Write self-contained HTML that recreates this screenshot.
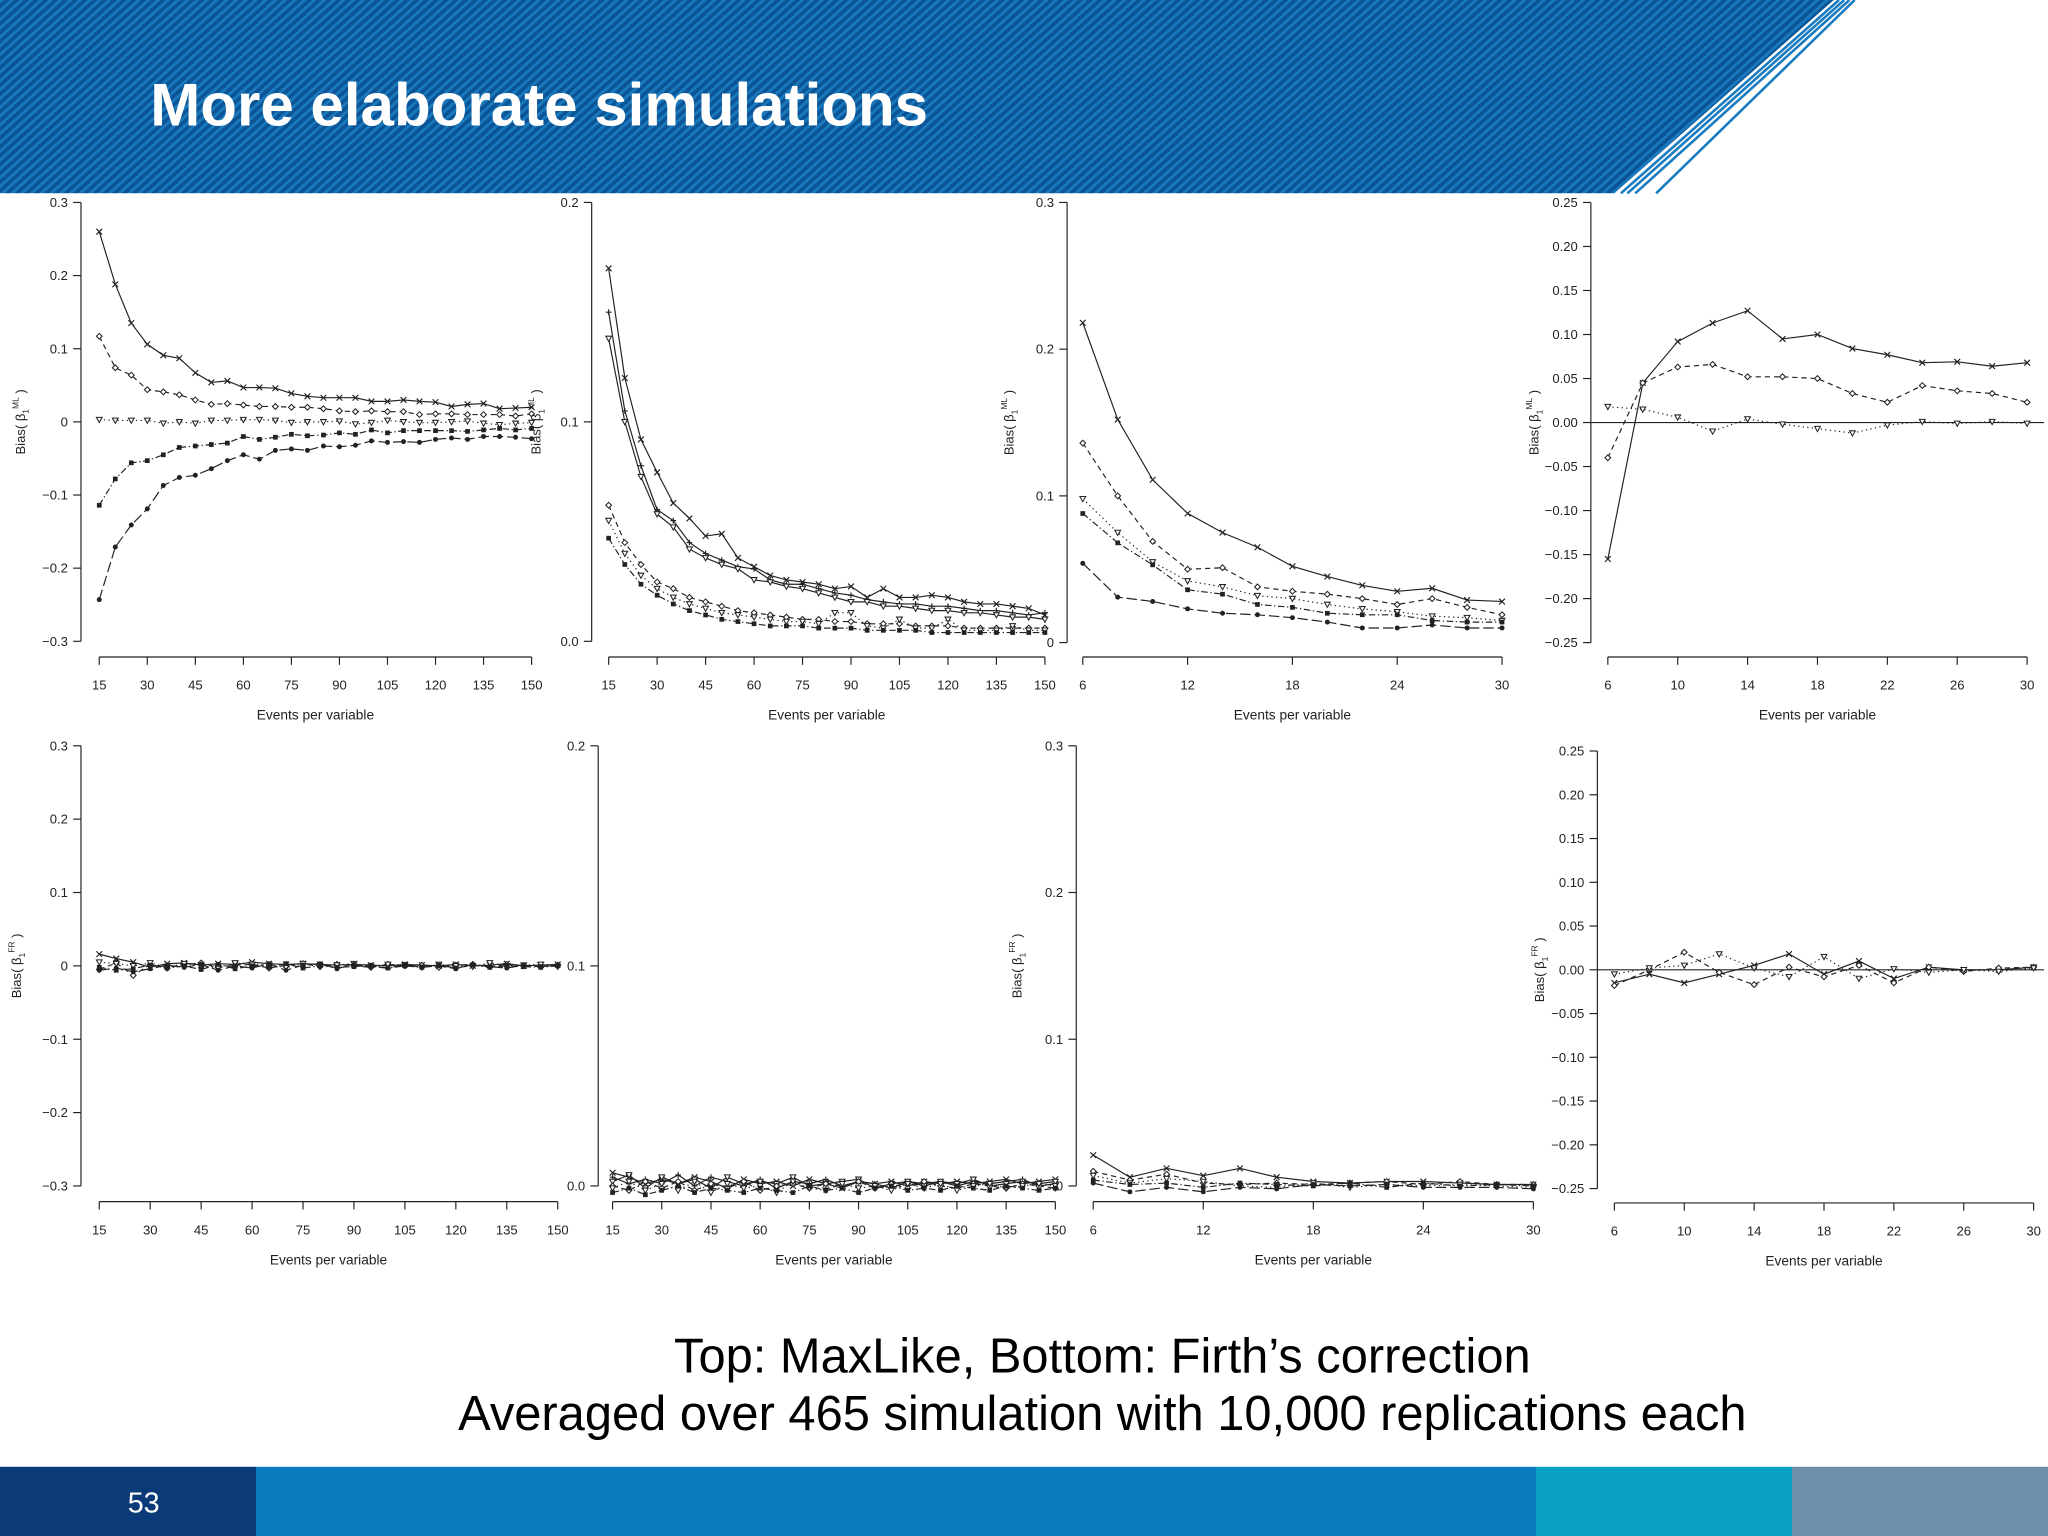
<!DOCTYPE html>
<html><head><meta charset="utf-8"><style>
html,body{margin:0;padding:0;background:#fff;}
svg{display:block;}
text{font-family:"Liberation Sans",Arial,sans-serif;}
</style></head><body>
<svg id="chart" width="2048" height="1536" viewBox="0 0 1568 1176" xmlns="http://www.w3.org/2000/svg">
<defs>
<pattern id="stripes" width="5" height="5" patternUnits="userSpaceOnUse" patternTransform="rotate(48)">
<rect width="5" height="5" fill="#0b5596"/><rect width="2.2" height="5" fill="#1a78bd"/>
</pattern>
</defs>
<g>
<polygon points="0,0 1404,0 1236,148 0,148" fill="url(#stripes)"/>
<g stroke="#1a7cc0" stroke-width="2">
<line x1="1408" y1="0" x2="1241" y2="148"/><line x1="1412" y1="0" x2="1246" y2="148"/>
<line x1="1416" y1="0" x2="1252" y2="148"/><line x1="1420" y1="0" x2="1268" y2="148"/>
</g>
<text x="115" y="96" font-size="46" font-weight="bold" fill="#fff">More elaborate simulations</text>
</g>
<g id="panels"></g>
<g font-size="37.4" fill="#000" text-anchor="middle">
<text x="844" y="1051">Top: MaxLike, Bottom: Firth’s correction</text>
<text x="844" y="1095">Averaged over 465 simulation with 10,000 replications each</text>
</g>
<g>
<rect x="0" y="1123" width="196" height="53" fill="#0a3a78"/>
<rect x="196" y="1123" width="980" height="53" fill="#0b7bc0"/>
<rect x="1176" y="1123" width="196" height="53" fill="#0aa2c2"/>
<rect x="1372" y="1123" width="196" height="53" fill="#6f8fa8"/>
<text x="110" y="1158" font-size="22" fill="#fff" text-anchor="middle">53</text>
</g>
</svg>
<script>
// ---- data ----
const epvLong = [15,20,25,30,35,40,45,50,55,60,65,70,75,80,85,90,95,100,105,110,115,120,125,130,135,140,145,150];
const epvShort = [6,8,10,12,14,16,18,20,22,24,26,28,30];
const xTicksLong = [15,30,45,60,75,90,105,120,135,150];
const xTicksShort = [6,12,18,24,30];
const xTicksShort4 = [6,10,14,18,22,26,30];
const yTicks3 = [-0.3,-0.2,-0.1,0,0.1,0.2,0.3];
const yLabels3 = ["−0.3","−0.2","−0.1","0","0.1","0.2","0.3"];
const yTicks2 = [0,0.1,0.2];
const yLabels2 = ["0.0","0.1","0.2"];
const yTicks03 = [0,0.1,0.2,0.3];
const yLabels03 = ["0","0.1","0.2","0.3"];
const yTicks25 = [-0.25,-0.2,-0.15,-0.1,-0.05,0,0.05,0.1,0.15,0.2,0.25];
const yLabels25 = ["−0.25","−0.20","−0.15","−0.10","−0.05","0.00","0.05","0.10","0.15","0.20","0.25"];

const p1A = [.26,.188,.135,.106,.091,.087,.067,.054,.056,.047,.047,.046,.039,.035,.033,.033,.033,.028,.028,.030,.028,.027,.021,.024,.025,.018,.019,.020];
const p1B = [.117,.074,.064,.044,.041,.037,.030,.024,.025,.023,.021,.021,.020,.020,.018,.015,.014,.015,.014,.014,.010,.011,.011,.010,.010,.010,.008,.011];
const p1C = [.003,.002,.002,.002,-.002,0,-.002,.002,.002,.003,.003,.002,-.001,0,0,.001,-.003,-.001,.002,0,-.001,-.001,0,.001,-.002,-.004,-.002,-.001];
const p1D = [-.114,-.078,-.056,-.053,-.045,-.035,-.033,-.031,-.029,-.020,-.024,-.021,-.017,-.019,-.018,-.015,-.017,-.011,-.015,-.012,-.012,-.012,-.012,-.013,-.011,-.009,-.011,-.009];
const p1E = [-.243,-.171,-.141,-.119,-.087,-.076,-.073,-.064,-.053,-.045,-.051,-.039,-.037,-.039,-.033,-.034,-.032,-.026,-.028,-.027,-.028,-.024,-.022,-.024,-.020,-.020,-.021,-.023];

const p2A = [.17,.12,.092,.077,.063,.056,.048,.049,.038,.034,.030,.028,.027,.026,.024,.025,.020,.024,.020,.020,.021,.020,.018,.017,.017,.016,.015,.012];
const p2B = [.15,.105,.08,.06,.055,.045,.040,.037,.034,.033,.028,.026,.026,.024,.022,.021,.019,.018,.017,.017,.016,.016,.015,.014,.014,.013,.012,.013];
const p2C = [.138,.10,.075,.058,.052,.042,.038,.035,.033,.028,.027,.025,.024,.022,.020,.018,.018,.016,.016,.015,.014,.014,.013,.013,.012,.011,.011,.010];
const p2D = [.062,.045,.035,.027,.024,.020,.018,.016,.014,.013,.012,.011,.010,.010,.009,.009,.008,.008,.008,.007,.007,.007,.006,.006,.006,.006,.006,.006];
const p2E = [.055,.040,.030,.024,.020,.017,.015,.013,.012,.011,.010,.009,.009,.008,.013,.013,.007,.006,.010,.006,.006,.010,.005,.005,.005,.007,.005,.005];
const p2F = [.047,.035,.026,.021,.017,.014,.012,.010,.009,.008,.007,.007,.007,.006,.006,.006,.005,.005,.005,.005,.004,.004,.004,.004,.004,.004,.004,.004];

const p3A = [.218,.152,.111,.088,.075,.065,.052,.045,.039,.035,.037,.029,.028];
const p3B = [.136,.100,.069,.050,.051,.038,.035,.033,.030,.026,.030,.024,.019];
const p3C = [.098,.075,.055,.042,.038,.032,.030,.026,.023,.021,.018,.017,.015];
const p3D = [.088,.068,.053,.036,.033,.026,.024,.020,.019,.019,.015,.014,.014];
const p3E = [.054,.031,.028,.023,.020,.019,.017,.014,.010,.010,.012,.010,.010];

const p4A = [-.155,.045,.092,.113,.127,.095,.100,.084,.077,.068,.069,.064,.068];
const p4B = [-.040,.045,.063,.066,.052,.052,.050,.033,.023,.042,.036,.033,.023];
const p4C = [.018,.015,.006,-.010,.004,-.002,-.007,-.012,-.003,.001,-.001,.001,-.001];

const p5A = [.016,.010,.005,-.002,.003,.004,.001,.003,.002,.005,.003,.002,.003,.002,.001,.002,.001,0,.002,.001,0,.002,0,.001,.003,0,.001,.002];
const p5B = [-.005,.004,-.013,.002,-.003,.002,.004,-.002,.001,.002,-.003,.001,.003,-.001,.002,0,-.002,.002,0,.001,-.002,.001,.002,-.001,.002,0,-.001,.001];
const p5C = [.005,.003,0,.004,-.002,.003,0,-.003,.004,.002,.001,-.002,.003,0,.001,.003,-.001,.002,.001,-.002,.002,0,-.001,.004,0,.001,.002,-.001];
const p5D = [-.002,-.006,-.004,.001,-.003,0,-.005,.002,-.004,0,-.002,.003,-.003,0,-.002,-.001,.001,-.003,0,-.002,.001,-.003,.001,-.002,0,-.001,-.002,0];
const p5E = [-.006,-.003,-.008,-.004,.001,-.002,.002,-.006,0,-.003,.003,-.006,.001,.003,-.004,.002,-.001,-.003,.002,-.002,0,-.004,.002,-.001,-.003,.001,-.001,.001];

const p6A = [.006,.004,.001,.003,.001,.004,.002,-.001,.003,.001,.002,0,.003,.001,-.001,.002,.001,.002,0,.002,.001,.002,.001,.002,.003,.001,.002,.003];
const p6B = [.004,.001,.003,.001,.005,0,.004,.002,0,.003,-.001,.002,.001,.003,0,.002,.001,-.001,.002,.001,.002,0,.002,.001,.002,.003,0,.001];
const p6C = [.002,.005,-.001,.004,.001,.003,-.001,.004,.001,.002,.001,.004,0,.001,.002,.003,-.001,.001,.002,0,.002,.001,.003,0,.001,.002,.001,.002];
const p6D = [0,-.002,.002,-.001,.002,-.002,.001,-.001,.002,-.002,0,.001,-.001,.001,0,.002,-.001,.001,-.001,.002,0,-.001,.001,0,-.001,.001,0,-.001];
const p6E = [-.001,.002,-.002,.001,-.002,.002,-.003,.001,-.001,0,-.003,.002,-.001,-.002,.001,-.001,0,-.002,.001,-.001,.001,-.002,0,.001,-.001,0,.001,0];
const p6F = [-.003,-.001,-.004,-.002,0,-.003,-.001,-.002,-.003,-.001,-.002,-.003,0,-.002,-.001,-.003,-.001,0,-.002,-.001,-.002,0,-.001,-.002,0,-.001,-.002,-.001];

const p7A = [.021,.006,.012,.007,.012,.006,.003,.002,.003,.003,.002,.001,.001];
const p7B = [.010,.004,.008,.002,.001,.002,.001,.002,.003,.001,.003,.001,.001];
const p7C = [.007,.002,.005,.003,0,-.001,.002,-.001,.001,0,.001,0,-.001];
const p7D = [.004,.001,.002,-.001,.002,.001,0,.002,-.001,.002,0,.001,0];
const p7E = [.002,-.004,-.001,-.004,-.001,-.002,.001,0,.001,-.001,-.001,-.001,-.002];

const p8A = [-.015,-.005,-.015,-.005,.005,.018,-.005,.010,-.010,.003,0,0,.003];
const p8B = [-.018,0,.020,-.003,-.017,.003,-.008,.005,-.015,.003,-.002,.002,.003];
const p8C = [-.005,.002,.005,.018,.002,-.008,.015,-.010,.001,-.003,0,-.002,.002];

// ---- styles & layout ----
const styles = {
  solid:{dash:"", marker:"x"}, dashed:{dash:"4,3", marker:"diamond"}, dotted:{dash:"1,2.5", marker:"tri"},
  dashdot:{dash:"5,2,1,2", marker:"square"}, longdash:{dash:"8,3", marker:"circle"}, solid2:{dash:"", marker:"plus"}, solid3:{dash:"", marker:"tri"}
};
const panels = [
 {name:"ml-panel-1", ax:62, top:155, bot:491, xAxisY:503, x0:76, x1:407, xs:epvLong, xt:xTicksLong, yt:yTicks3, yl:yLabels3, ymin:-0.3, ymax:0.3, sup:"ML", ylx:15, zero:false,
  series:[[p1A,"solid"],[p1B,"dashed"],[p1C,"dotted"],[p1D,"dashdot"],[p1E,"longdash"]]},
 {name:"ml-panel-2", ax:453, top:155, bot:491, xAxisY:503, x0:466, x1:800, xs:epvLong, xt:xTicksLong, yt:yTicks2, yl:yLabels2, ymin:0, ymax:0.2, sup:"ML", ylx:410, zero:false,
  series:[[p2A,"solid"],[p2B,"solid2"],[p2C,"solid3"],[p2D,"dashed"],[p2E,"dotted"],[p2F,"dashdot"]]},
 {name:"ml-panel-3", ax:817, top:155, bot:492, xAxisY:503, x0:829, x1:1150, xs:epvShort, xt:xTicksShort, yt:yTicks03, yl:yLabels03, ymin:0, ymax:0.3, sup:"ML", ylx:772, zero:false,
  series:[[p3A,"solid"],[p3B,"dashed"],[p3C,"dotted"],[p3D,"dashdot"],[p3E,"longdash"]]},
 {name:"ml-panel-4", ax:1218, top:155, bot:492, xAxisY:503, x0:1231, x1:1552, xs:epvShort, xt:xTicksShort4, yt:yTicks25, yl:yLabels25, ymin:-0.25, ymax:0.25, sup:"ML", ylx:1174, zero:true, zx:1565,
  series:[[p4A,"solid"],[p4B,"dashed"],[p4C,"dotted"]]},
 {name:"firth-panel-1", ax:62, top:571, bot:908, xAxisY:920, x0:76, x1:427, xs:epvLong, xt:xTicksLong, yt:yTicks3, yl:yLabels3, ymin:-0.3, ymax:0.3, sup:"FR", ylx:12, zero:false,
  series:[[p5A,"solid"],[p5B,"dashed"],[p5C,"dotted"],[p5D,"dashdot"],[p5E,"longdash"]]},
 {name:"firth-panel-2", ax:458, top:571, bot:908, xAxisY:920, x0:469, x1:808, xs:epvLong, xt:xTicksLong, yt:yTicks2, yl:yLabels2, ymin:0, ymax:0.2, sup:"FR", ylx:null, zero:false,
  series:[[p6A,"solid"],[p6B,"solid2"],[p6C,"solid3"],[p6D,"dashed"],[p6E,"dotted"],[p6F,"dashdot"]]},
 {name:"firth-panel-3", ax:824, top:571, bot:908, xAxisY:920, x0:837, x1:1174, xs:epvShort, xt:xTicksShort, yt:yTicks03, yl:yLabels03, ymin:0, ymax:0.3, sup:"FR", ylx:778, zero:false,
  series:[[p7A,"solid"],[p7B,"dashed"],[p7C,"dotted"],[p7D,"dashdot"],[p7E,"longdash"]]},
 {name:"firth-panel-4", ax:1223, top:575, bot:910, xAxisY:921, x0:1236, x1:1557, xs:epvShort, xt:xTicksShort4, yt:yTicks25, yl:yLabels25, ymin:-0.25, ymax:0.25, sup:"FR", ylx:1178, zero:true, zx:1565,
  series:[[p8A,"solid"],[p8B,"dashed"],[p8C,"dotted"]]}
];

const NS="http://www.w3.org/2000/svg";
function mk(tag, attrs, parent){const e=document.createElementNS(NS,tag);for(const k in attrs)e.setAttribute(k,attrs[k]);parent.appendChild(e);return e;}
const root=document.getElementById("panels");

function marker(g, type, x, y){
  const s=2.2; let e;
  if(type==="x"||type==="plus"){
    const d = type==="x" ? `M${x-s},${y-s}L${x+s},${y+s}M${x-s},${y+s}L${x+s},${y-s}` : `M${x-s},${y}L${x+s},${y}M${x},${y-s}L${x},${y+s}`;
    e=mk("path",{d:d,stroke:"#222","stroke-width":0.9,fill:"none"},g);
  } else if(type==="diamond"){
    e=mk("polygon",{points:`${x},${y-s} ${x+s},${y} ${x},${y+s} ${x-s},${y}`,fill:"#fff",stroke:"#222","stroke-width":0.8},g);
  } else if(type==="tri"){
    e=mk("polygon",{points:`${x-s},${y-s*0.8} ${x+s},${y-s*0.8} ${x},${y+s}`,fill:"#fff",stroke:"#222","stroke-width":0.8},g);
  } else if(type==="square"){
    e=mk("rect",{x:x-1.8,y:y-1.8,width:3.6,height:3.6,fill:"#222"},g);
  } else {
    e=mk("circle",{cx:x,cy:y,r:1.9,fill:"#222"},g);
  }
  
  
}

panels.forEach(p=>{
  const g=mk("g",{},root);
  
  
  const xmin=p.xs[0], xmax=p.xs[p.xs.length-1];
  const sx=v=>p.x0+(v-xmin)/(xmax-xmin)*(p.x1-p.x0);
  const sy=v=>p.bot-(v-p.ymin)/(p.ymax-p.ymin)*(p.bot-p.top);
  const ya=mk("g",{stroke:"#222","stroke-width":0.9},g);
  
  
  mk("line",{x1:p.ax,y1:sy(p.ymax),x2:p.ax,y2:sy(p.ymin)},ya);
  p.yt.forEach((t,i)=>{
    const y=sy(t);
    mk("line",{x1:p.ax-6,y1:y,x2:p.ax,y2:y},ya);
    const tx=mk("text",{x:p.ax-10,y:y+3.5,"font-size":10,"text-anchor":"end",fill:"#222",stroke:"none"},ya);
    tx.textContent=p.yl[i];
    
    
  });
  const xa=mk("g",{stroke:"#222","stroke-width":0.9},g);
  
  
  mk("line",{x1:sx(p.xt[0]),y1:p.xAxisY,x2:sx(p.xt[p.xt.length-1]),y2:p.xAxisY},xa);
  p.xt.forEach(t=>{
    const x=sx(t);
    mk("line",{x1:x,y1:p.xAxisY,x2:x,y2:p.xAxisY+6},xa);
    const tx=mk("text",{x:x,y:p.xAxisY+25,"font-size":10,"text-anchor":"middle",fill:"#222",stroke:"none"},xa);
    tx.textContent=String(t);
    
    
  });
  const xt=mk("text",{x:(p.x0+p.x1)/2,y:p.xAxisY+48,"font-size":10.5,"text-anchor":"middle",fill:"#222"},g);
  xt.textContent="Events per variable";
  
  
  if(p.ylx!==null){
    const cy=(p.top+p.bot)/2;
    const yt=mk("text",{x:0,y:0,"font-size":10,"text-anchor":"middle",fill:"#222",transform:`translate(${p.ylx+4},${cy}) rotate(-90)`},g);
    
    
    yt.appendChild(document.createTextNode("Bias( β"));
    const sb=mk("tspan",{"font-size":6.5,dy:3},yt); sb.textContent="1";
    const sp=mk("tspan",{"font-size":6.5,dy:-8},yt); sp.textContent=p.sup;
    const cl=mk("tspan",{dy:5},yt); cl.textContent=" )";
  }
  if(p.zero){
    const z=mk("line",{x1:p.ax,y1:sy(0),x2:p.zx,y2:sy(0),stroke:"#222","stroke-width":0.9},g);
    
    
  }
  p.series.forEach(([vals,st])=>{
    const s=styles[st];
    const sg=mk("g",{},g);
    
    
    const pts=vals.map((v,i)=>sx(p.xs[i]).toFixed(1)+","+sy(v).toFixed(1)).join(" ");
    const pl=mk("polyline",{points:pts,fill:"none",stroke:"#222","stroke-width":0.9,"stroke-dasharray":s.dash},sg);
    
    
    vals.forEach((v,i)=>marker(sg,s.marker,sx(p.xs[i]),sy(v)));
  });
});
</script>
</body></html>
